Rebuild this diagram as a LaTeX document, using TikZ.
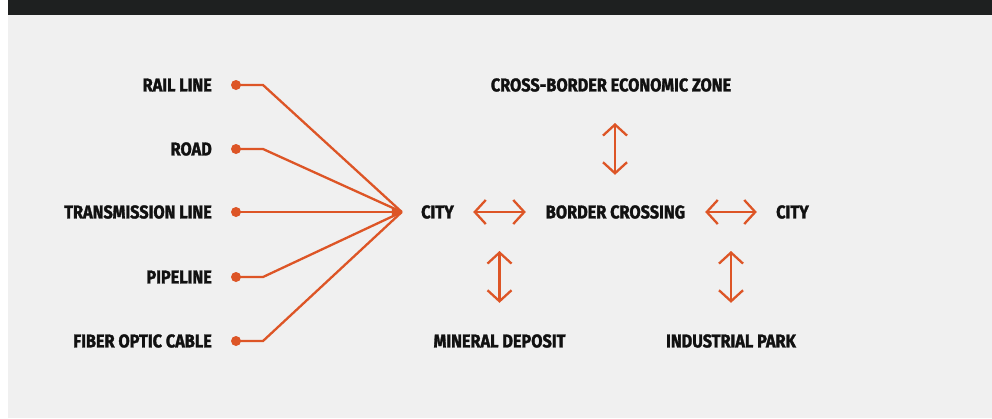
\documentclass[tikz,border=0pt]{standalone}
\usepackage{fontspec}
\setmainfont{Fira Sans}[FakeStretch=0.88, BoldFeatures={FakeBold=1.6}]
\usetikzlibrary{arrows.meta}
\definecolor{accent}{RGB}{221,85,38}
\definecolor{ink}{RGB}{17,17,17}
\definecolor{paper}{RGB}{240,240,240}
\definecolor{topbar}{RGB}{30,32,32}
\tikzset{
  lbl/.style={font=\fontsize{18.5}{18.5}\selectfont\bfseries, text=ink, inner sep=0pt},
  hub/.style={lbl, minimum width=71pt, minimum height=10pt},
  dot/.style={circle, fill=accent, inner sep=0pt, minimum size=10pt},
  link/.style={draw=accent, line width=2.3pt},
  dbl/.style={link, {Straight Barb[length=11pt,width=24pt,line width=2.3pt]}-{Straight Barb[length=11pt,width=24pt,line width=2.3pt]}}
}
\begin{document}
\begin{tikzpicture}[x=1pt,y=-1pt]
\useasboundingbox (0,0) rectangle (992,418);
\fill[white] (0,0) rectangle (992,418);
\fill[paper] (8,0) rectangle (992,418);
\fill[topbar] (8,0) rectangle (992,15);

% left labels and dots
\node[lbl, anchor=east] (l1) at (212,85) {RAIL LINE};
\node[lbl, anchor=east] (l2) at (212,149) {ROAD};
\node[lbl, anchor=east] (l3) at (212,212) {TRANSMISSION LINE};
\node[lbl, anchor=east] (l4) at (212,277) {PIPELINE};
\node[lbl, anchor=east] (l5) at (212,341) {FIBER OPTIC CABLE};
\node[dot] (d1) at (236,85) {};
\node[dot] (d2) at (236,149) {};
\node[dot] (d3) at (236,212) {};
\node[dot] (d4) at (236,277) {};
\node[dot] (d5) at (236,341) {};

% central nodes
\node[hub] (c1) at (437.5,212) {CITY};
\node[lbl, minimum width=179pt, minimum height=74pt] (bc) at (615.5,212) {BORDER CROSSING};
\node[hub] (c2) at (792.5,212) {CITY};
\node[lbl, minimum height=76pt] (ez) at (611,85) {CROSS-BORDER ECONOMIC ZONE};
\node[lbl, minimum height=76pt] (md) at (499.5,341) {MINERAL DEPOSIT};
\node[lbl, minimum height=76pt] (ip) at (731,341) {INDUSTRIAL PARK};

% converging lines
\draw[link] (d1.center) -- ++(27,0) -- (c1.west);
\draw[link] (d2.center) -- ++(27,0) -- (c1.west);
\draw[link, -{Latex[length=10pt,width=9pt]}] (d3.center) -- (c1.west);
\draw[link] (d4.center) -- ++(27,0) -- (c1.west);
\draw[link] (d5.center) -- ++(27,0) -- (c1.west);

% double arrows
\draw[dbl] (c1.east) -- (bc.west);
\draw[dbl] (bc.east) -- (c2.west);
\draw[dbl] (615,123) coordinate (ezb) -- (bc.north -| ezb);
\draw[dbl] (499.5,251) coordinate (mdt) -- (md.north);
\draw[dbl] (731,251) coordinate (ipt) -- (ip.north);
\end{tikzpicture}
\end{document}
